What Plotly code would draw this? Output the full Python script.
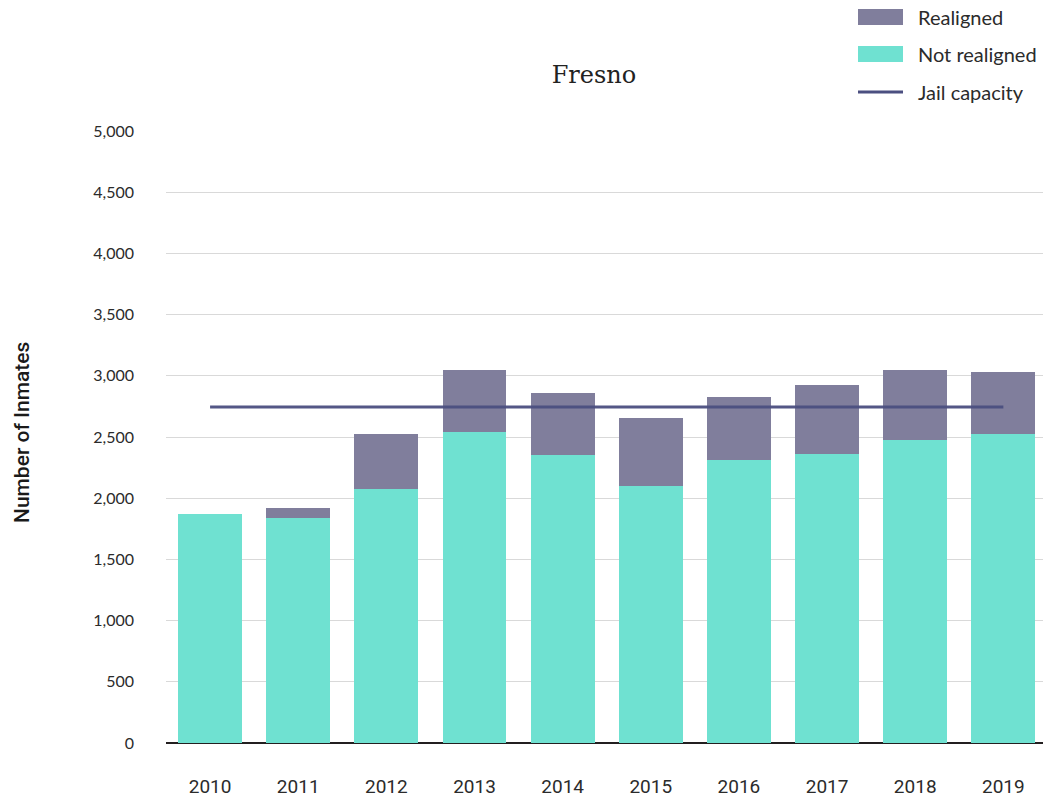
import plotly.graph_objects as go

years = ["2010", "2011", "2012", "2013", "2014", "2015", "2016", "2017", "2018", "2019"]
not_realigned = [1875, 1840, 2075, 2540, 2355, 2100, 2312, 2361, 2475, 2524]
totals = [1875, 1920, 2525, 3045, 2860, 2655, 2827, 2925, 3047, 3031]
realigned = [t - n for t, n in zip(totals, not_realigned)]
jail_capacity = [2745] * len(years)
y_ticks = [0, 500, 1000, 1500, 2000, 2500, 3000, 3500, 4000, 4500, 5000]

W, H = 1043, 799
L, R, T, B = 166, 0, 131, 56
PW, PH = W - L - R, H - T - B


def px_x(p):
    return (p - L) / PW


def px_y(p):
    return (H - B - p) / PH


C_REAL = "#807e9c"
C_NOT = "#6fe1d1"
C_LINE = "#4b4f80"

fig = go.Figure()
fig.add_trace(go.Bar(x=years, y=not_realigned, name="Not realigned",
                     marker=dict(color=C_NOT, line=dict(width=0))))
fig.add_trace(go.Bar(x=years, y=realigned, name="Realigned",
                     marker=dict(color=C_REAL, line=dict(width=0))))
fig.add_trace(go.Scatter(x=years, y=jail_capacity, mode="lines", name="Jail capacity",
                         line=dict(color=C_LINE, width=3), opacity=0.95))

fig.update_layout(
    width=W, height=H,
    barmode="stack", bargap=0.274,
    showlegend=False,
    plot_bgcolor="white", paper_bgcolor="white",
    margin=dict(l=L, r=R, t=T, b=B, autoexpand=False),
    title=dict(text="Fresno", x=594 / W, xanchor="center", y=1 - 75 / H, yanchor="middle",
               font=dict(family="DejaVu Serif", size=24, color="#222222")),
    xaxis=dict(type="category", range=[-0.5, 9.45], showgrid=False, showline=False,
               ticks="", ticklabelstandoff=30,
               tickfont=dict(family="Roboto", size=19, color="#2b2b2b")),
    yaxis=dict(range=[0, 5000], tickvals=y_ticks, tickformat=",", showgrid=True,
               gridcolor="#d9d9d9", gridwidth=1, zeroline=True, zerolinecolor="#231f20",
               zerolinewidth=2, showline=False, ticks="", ticklabelstandoff=31,
               tickfont=dict(family="Lato", size=16, color="#2b2b2b")),
)

# y-axis title
fig.add_annotation(text="Number of Inmates", xref="paper", yref="paper",
                   x=px_x(22), y=px_y(433), xanchor="center", yanchor="middle",
                   textangle=-90, showarrow=False,
                   font=dict(family="Roboto", size=21, color="#1a1a1a", weight=500))

# custom legend
legend_items = [("Realigned", "rect", C_REAL, 17), ("Not realigned", "rect", C_NOT, 54),
                ("Jail capacity", "line", C_LINE, 92)]
for label, kind, color, yc in legend_items:
    if kind == "rect":
        fig.add_shape(type="rect", xref="paper", yref="paper",
                      x0=px_x(858), x1=px_x(903), y0=px_y(yc - 8), y1=px_y(yc + 8),
                      fillcolor=color, line=dict(width=0))
    else:
        fig.add_shape(type="line", xref="paper", yref="paper",
                      x0=px_x(858), x1=px_x(903), y0=px_y(yc), y1=px_y(yc),
                      line=dict(color=color, width=3))
    fig.add_annotation(text=label, xref="paper", yref="paper", x=px_x(916), y=px_y(yc),
                       xanchor="left", yanchor="middle", showarrow=False,
                       font=dict(family="Lato", size=20, color="#2b2b2b"))

fig.write_html("out.html", config={"displayModeBar": False},
               post_script="document.body.style.margin='0';")
